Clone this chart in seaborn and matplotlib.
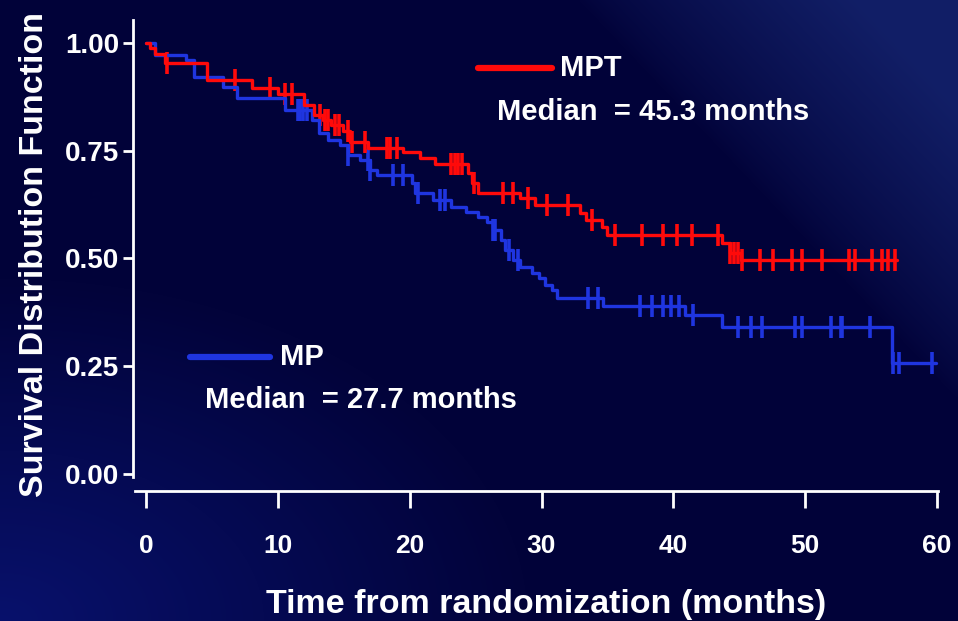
#!/usr/bin/env python3
"""Kaplan-Meier style survival curves, MPT vs MP."""

import matplotlib

matplotlib.use("Agg")
import matplotlib.pyplot as plt
import numpy as np
import seaborn as sns

# MPT arm: step times (months) and survival after each step
mpt_times = [0, 0.3, 0.7, 1.4, 4.6, 8.0, 10.0, 12.0, 12.7, 13.4, 14.0, 14.9, 15.5,
             16.8, 19.5, 20.8, 21.9, 24.4, 24.7, 25.2, 28.4, 29.5, 32.9, 33.4,
             34.6, 35.0, 43.7, 44.3, 45.1, 57.0]
mpt_surv = [1.0, 0.988, 0.974, 0.953, 0.914, 0.896, 0.882, 0.856, 0.833, 0.82, 0.81,
            0.795, 0.77, 0.757, 0.747, 0.733, 0.72, 0.698, 0.675, 0.652, 0.640,
            0.624, 0.605, 0.589, 0.572, 0.555, 0.536, 0.513, 0.497, 0.497]
mpt_censor = [1.6, 6.75, 9.4, 10.5, 11.1, 13.2, 13.6, 13.8, 14.3, 14.6, 15.3, 15.6,
              16.6, 18.3, 18.5, 19.0, 23.1, 23.4, 23.7, 24.0, 24.9, 27.1, 27.8,
              29.0, 30.4, 32.0, 33.8, 35.6, 37.6, 39.2, 40.3, 41.4, 43.4, 44.3,
              44.6, 44.9, 45.2, 46.6, 47.6, 49.0, 49.8, 51.3, 53.3, 53.8, 55.1,
              55.8, 56.3, 56.8]

# MP arm
mp_times = [0, 0.7, 3.0, 3.6, 5.8, 6.9, 10.5, 12.6, 13.1, 13.8, 14.7, 15.3, 16.2,
            17.0, 17.5, 20.2, 20.4, 21.8, 23.1, 24.3, 25.2, 25.9, 26.3, 26.9,
            27.2, 27.8, 28.4, 29.3, 29.8, 30.3, 30.8, 31.2, 34.7, 40.9, 43.7,
            56.6, 59.9]
mp_surv = [1.0, 0.972, 0.96, 0.921, 0.898, 0.872, 0.845, 0.82, 0.79, 0.775, 0.763,
           0.74, 0.729, 0.705, 0.694, 0.675, 0.652, 0.636, 0.62, 0.608, 0.596,
           0.585, 0.565, 0.543, 0.52, 0.497, 0.48, 0.466, 0.455, 0.439, 0.427,
           0.408, 0.39, 0.369, 0.341, 0.258, 0.258]
mp_censor = [11.5, 11.7, 11.9, 12.2, 15.3, 16.8, 17.0, 18.7, 19.5, 20.6, 22.3,
             22.7, 26.3, 26.5, 27.5, 28.2, 33.5, 34.3, 37.5, 38.4, 39.2, 39.8,
             40.4, 41.5, 44.9, 45.9, 46.7, 49.2, 49.8, 52.0, 52.7, 52.8, 54.9,
             56.7, 57.1, 59.6]

x_ticks = [0, 10, 20, 30, 40, 50, 60]
y_ticks = [0.0, 0.25, 0.5, 0.75, 1.0]

RED = "#ff0a0a"
BLUE = "#1f35e0"
WHITE = "white"
FONT = ["Liberation Sans", "DejaVu Sans"]


def surv_at(times, surv, t):
    idx = np.searchsorted(np.asarray(times), np.asarray(t), side="right") - 1
    return np.asarray(surv)[idx]


def background(h, w):
    yy, xx = np.mgrid[0:h, 0:w].astype(float)
    base = np.array([2, 3, 58], dtype=float)
    # lighter diagonal in the upper right
    s = (xx - 580) - yy * 0.95
    up = np.clip(s / 280.0, 0, 1) ** 0.8
    # soft lift in the lower left
    d = np.hypot(xx / w, (h - yy) / h)
    low = np.clip(1 - d / 0.55, 0, 1)
    img = base + up[..., None] * np.array([16, 28, 45]) + low[..., None] * np.array([6, 14, 50])
    return np.clip(img / 255.0, 0, 1)


def main() -> None:
    sns.set_theme(style="white")
    plt.rcParams["font.family"] = FONT
    plt.rcParams["font.weight"] = "bold"

    fig = plt.figure(figsize=(9.58, 6.21), dpi=100)
    bg = fig.add_axes([0, 0, 1, 1], zorder=-10)
    bg.imshow(background(621, 958), aspect="auto", extent=[0, 1, 0, 1])
    bg.set_axis_off()

    ax = fig.add_axes([0.1388, 0.2093, 0.8419, 0.7633])
    ax.set_facecolor("none")

    sns.lineplot(x=mp_times, y=mp_surv, ax=ax, color=BLUE, lw=2.4,
                 drawstyle="steps-post", estimator=None, sort=False)
    sns.lineplot(x=mpt_times, y=mpt_surv, ax=ax, color=RED, lw=2.4,
                 drawstyle="steps-post", estimator=None, sort=False)
    sns.scatterplot(x=mp_censor, y=surv_at(mp_times, mp_surv, mp_censor), ax=ax,
                    marker="|", s=240, linewidth=2.6, color=BLUE)
    sns.scatterplot(x=mpt_censor, y=surv_at(mpt_times, mpt_surv, mpt_censor), ax=ax,
                    marker="|", s=240, linewidth=2.6, color=RED)

    ax.set_xlim(-1.0, 60.2)
    ax.set_ylim(-0.04, 1.06)
    ax.set_xticks(x_ticks)
    ax.set_yticks(y_ticks)
    ax.set_yticklabels([f"{v:.2f}" for v in y_ticks])

    for side in ("top", "right"):
        ax.spines[side].set_visible(False)
    ax.spines["left"].set_bounds(-0.007, 1.053)
    ax.spines["bottom"].set_bounds(-0.83, 60.1)
    for side in ("left", "bottom"):
        ax.spines[side].set_color(WHITE)
        ax.spines[side].set_linewidth(2)

    ax.tick_params(axis="y", colors=WHITE, length=7, width=2, direction="out",
                   labelsize=20, pad=3, left=True)
    ax.tick_params(axis="x", colors=WHITE, length=12, width=2, direction="out",
                   labelsize=19, pad=19, bottom=True)
    for lab in ax.get_xticklabels() + ax.get_yticklabels():
        lab.set_fontweight("bold")

    ax.set_xlabel("Time from randomization (months)", color=WHITE, fontsize=24.5,
                  fontweight="bold")
    ax.xaxis.set_label_coords(0.512, -0.24)
    ax.xaxis.label.set_va("center")
    ax.set_ylabel("Survival Distribution Function", color=WHITE, fontsize=24.5,
                  fontweight="bold")
    ax.yaxis.set_label_coords(-0.1215, 0.498)
    ax.yaxis.label.set_va("center")

    # legend-like annotations
    ax.plot([0.428, 0.520], [0.892, 0.892], transform=ax.transAxes, color=RED, lw=4.5)
    ax.text(0.529, 0.892, "MPT", transform=ax.transAxes, color=WHITE, fontsize=21,
            fontweight="bold", va="center", ha="left")
    ax.text(0.451, 0.80, "Median  = 45.3 months", transform=ax.transAxes, color=WHITE,
            fontsize=21, fontweight="bold", va="center", ha="left")
    ax.plot([0.071, 0.170], [0.283, 0.283], transform=ax.transAxes, color=BLUE, lw=4.5)
    ax.text(0.182, 0.283, "MP", transform=ax.transAxes, color=WHITE, fontsize=21,
            fontweight="bold", va="center", ha="left")
    ax.text(0.089, 0.192, "Median  = 27.7 months", transform=ax.transAxes, color=WHITE,
            fontsize=21, fontweight="bold", va="center", ha="left")

    fig.savefig("out.png", dpi=100)
    plt.close(fig)


if __name__ == "__main__":
    main()
